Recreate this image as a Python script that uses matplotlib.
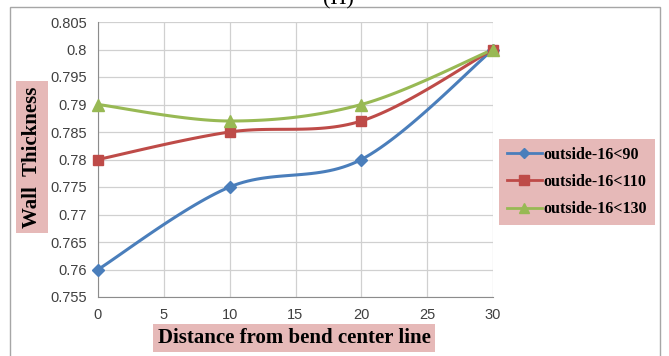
import matplotlib
matplotlib.use('Agg')
import matplotlib.pyplot as plt
from matplotlib.lines import Line2D
from matplotlib.patches import Rectangle
import numpy as np

distance = [0, 10, 20, 30]
thick_90 = [0.76, 0.775, 0.78, 0.8]
thick_110 = [0.78, 0.785, 0.787, 0.8]
thick_130 = [0.79, 0.787, 0.79, 0.8]
series_names = ['outside-16<90', 'outside-16<110', 'outside-16<130']

SERIF = 'Liberation Serif'
TICK_FONT = 'Liberation Sans'
PINK = '#e6b9b8'


def smooth(x, y, steps=30):
    """Catmull-Rom style smoothing like a spreadsheet 'smoothed line'."""
    x = np.asarray(x, float)
    y = np.asarray(y, float)
    px = np.concatenate([[x[0]], x, [x[-1]]])
    py = np.concatenate([[y[0]], y, [y[-1]]])
    xs, ys = [], []
    t = np.linspace(0, 1, steps)
    for i in range(1, len(px) - 2):
        p0, p1, p2, p3 = (np.array([px[j], py[j]]) for j in (i - 1, i, i + 1, i + 2))
        c1 = p1 + (p2 - p0) / 6
        c2 = p2 - (p3 - p1) / 6
        pts = ((1 - t) ** 3)[:, None] * p1 + (3 * (1 - t) ** 2 * t)[:, None] * c1 \
            + (3 * (1 - t) * t ** 2)[:, None] * c2 + (t ** 3)[:, None] * p2
        xs.extend(pts[:, 0])
        ys.extend(pts[:, 1])
    return xs, ys


fig = plt.figure(figsize=(6.69, 3.56), dpi=100)
fig.patch.set_facecolor('white')

# outer chart frame
fig.add_artist(Rectangle((10 / 669, -0.01), 650 / 669, 1 - 7 / 356 + 0.01,
                         transform=fig.transFigure, fill=False,
                         edgecolor='#a6a6a6', linewidth=1.0))

# panel caption, partly above the top edge
fig.text(338 / 669, 1.0, '(H)', ha='center', va='center',
         fontsize=16, family=SERIF)

ax = fig.add_axes([98 / 669, 1 - 297 / 356, (493 - 98) / 669, (297 - 22) / 356])

styles = [
    ('#4a7ebb', 'D', 6),
    ('#be4b48', 's', 7.5),
    ('#98b954', '^', 8),
]
for ys, name, (col, mk, ms) in zip([thick_90, thick_110, thick_130], series_names, styles):
    sx, sy = smooth(distance, ys)
    ax.plot(sx, sy, color=col, linewidth=2.2, solid_capstyle='round', zorder=3)
    ax.plot(distance, ys, linestyle='none', marker=mk, markersize=ms,
            color=col, zorder=4)

ax.set_xlim(0, 30)
ax.set_ylim(0.755, 0.805)
ax.set_xticks([0, 5, 10, 15, 20, 25, 30])
ax.set_xticklabels(['0', '5', '10', '15', '20', '25', '30'])
ax.set_yticks(np.arange(0.755, 0.8051, 0.005))
ax.set_yticklabels(['0.755', '0.76', '0.765', '0.77', '0.775', '0.78',
                    '0.785', '0.79', '0.795', '0.8', '0.805'])
ax.grid(True, color='#d0d0d0', linewidth=0.9)
ax.set_axisbelow(True)
for s in ['top', 'right']:
    ax.spines[s].set_visible(False)
for s in ['left', 'bottom']:
    ax.spines[s].set_color('#8c8c8c')
ax.tick_params(length=0, labelsize=10.5, colors='#404040', pad=8)
for lab in ax.get_xticklabels() + ax.get_yticklabels():
    lab.set_family(TICK_FONT)
for ln in ax.lines:
    ln.set_clip_on(False)

fig.text(32 / 669, 1 - 157 / 356, 'Wall  Thickness', rotation=90,
         ha='center', va='center', fontsize=15, fontweight='bold', family=SERIF,
         bbox=dict(facecolor=PINK, edgecolor='none', pad=4))
fig.text(294 / 669, 1 - 338 / 356, 'Distance from bend center line',
         ha='center', va='center', fontsize=15, fontweight='bold', family=SERIF,
         bbox=dict(facecolor=PINK, edgecolor='none', pad=3))

handles = [Line2D([0], [0], color=c, marker=m, markersize=ms * 0.9, linewidth=2)
           for c, m, ms in styles]
leg = fig.legend(handles, series_names, loc='center',
                 bbox_to_anchor=(577 / 669, 1 - 182 / 356),
                 prop=dict(family=SERIF, weight='bold', size=11.5),
                 frameon=True, fancybox=False, handlelength=2.2,
                 handletextpad=0.1, borderpad=0.5, labelspacing=0.7,
                 borderaxespad=0)
leg.get_frame().set_facecolor(PINK)
leg.get_frame().set_edgecolor('none')
leg.get_frame().set_alpha(1)

fig.savefig('out.png', dpi=100)
